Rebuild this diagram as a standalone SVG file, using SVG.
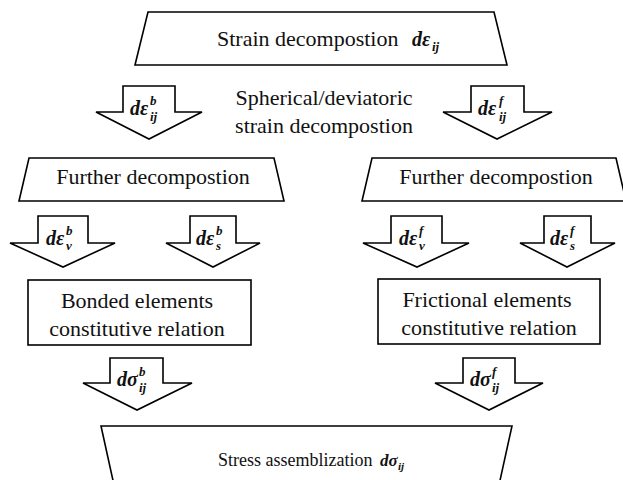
<svg xmlns="http://www.w3.org/2000/svg" width="623" height="480" viewBox="0 0 623 480">
<style>
.s{fill:#fff;stroke:#000;stroke-width:1.6;stroke-linejoin:miter}
.t{font-size:22px;fill:#111}
.m{font-size:20px;font-weight:bold;font-style:italic;fill:#111}
.sc{font-size:13px;font-weight:bold;font-style:italic;fill:#111}
</style>
<rect width="623" height="480" fill="#fff"/>
<g font-family="Liberation Serif, DejaVu Serif, serif">
<g id="connectors">
  <g id="arrow-b-ij">
    <polygon class="s" points="123,86 175,86 175,112 202,112 149,139 96,112 123,112"/>
    <text class="m" x="130" y="115">dε</text><text class="sc" x="150" y="105">b</text><text class="sc" x="150" y="121">ij</text>
  </g>
  <g id="arrow-f-ij">
    <polygon class="s" points="471,86 524,86 524,112 552,112 497,139 443,112 471,112"/>
    <text class="m" x="478" y="115">dε</text><text class="sc" x="499" y="105">f</text><text class="sc" x="499" y="121">ij</text>
  </g>
  <g id="arrow-b-v">
    <polygon class="s" points="38,216 88,216 88,243 115,243 63,267 10,243 38,243"/>
    <text class="m" x="46" y="245">dε</text><text class="sc" x="66" y="235">b</text><text class="sc" x="66" y="250">v</text>
  </g>
  <g id="arrow-b-s">
    <polygon class="s" points="190,216 236,216 236,243 260,243 213,267 166,243 190,243"/>
    <text class="m" x="196" y="245">dε</text><text class="sc" x="216" y="235">b</text><text class="sc" x="216" y="250">s</text>
  </g>
  <g id="arrow-f-v">
    <polygon class="s" points="391,216 442,216 442,243 469,243 417,267 363,243 391,243"/>
    <text class="m" x="399" y="245">dε</text><text class="sc" x="419" y="235">f</text><text class="sc" x="419" y="250">v</text>
  </g>
  <g id="arrow-f-s">
    <polygon class="s" points="544,216 591,216 591,243 615,243 567,267 520,243 544,243"/>
    <text class="m" x="550" y="245">dε</text><text class="sc" x="570" y="235">f</text><text class="sc" x="570" y="250">s</text>
  </g>
  <g id="arrow-sigma-b">
    <polygon class="s" points="110,358 163,358 163,383 192,383 137,410 83,383 110,383"/>
    <text class="m" x="117" y="386">dσ</text><text class="sc" x="139" y="376">b</text><text class="sc" x="139" y="392">ij</text>
  </g>
  <g id="arrow-sigma-f">
    <polygon class="s" points="463,358 515,358 515,383 543,383 489,410 435,383 463,383"/>
    <text class="m" x="470" y="386">dσ</text><text class="sc" x="492" y="376">f</text><text class="sc" x="492" y="392">ij</text>
  </g>
</g>
<g id="node-strain">
  <polygon class="s" points="148,12 494,12 507,65 135,65"/>
  <text class="t" x="217" y="46">Strain decompostion</text>
  <text class="m" x="412" y="46">dε</text><text class="sc" x="432" y="51">ij</text>
</g>
<g id="label-spherical">
  <text class="t" x="324" y="105" text-anchor="middle">Spherical/deviatoric</text>
  <text class="t" x="324" y="133" text-anchor="middle">strain decompostion</text>
</g>
<g id="node-further-left">
  <polygon class="s" points="29,158 274,158 284,201 19,201"/>
  <text class="t" x="153" y="184" text-anchor="middle">Further decompostion</text>
</g>
<g id="node-further-right">
  <polygon class="s" points="372,158 616,158 626,201 362,201"/>
  <text class="t" x="496" y="184" text-anchor="middle">Further decompostion</text>
</g>
<g id="node-bonded">
  <rect class="s" x="28" y="280" width="223" height="65"/>
  <text class="t" x="137" y="308" text-anchor="middle">Bonded elements</text>
  <text class="t" x="137" y="336" text-anchor="middle">constitutive relation</text>
</g>
<g id="node-frictional">
  <rect class="s" x="378" y="279" width="222" height="65"/>
  <text class="t" x="487" y="307" text-anchor="middle">Frictional elements</text>
  <text class="t" x="489" y="335" text-anchor="middle">constitutive relation</text>
</g>
<g id="node-stress">
  <polygon class="s" points="101,426 512,426 499,485 114,485"/>
  <text class="t" x="218" y="466" style="font-size:18px">Stress assemblization</text>
  <text class="m" x="380" y="466" style="font-size:17px">dσ</text><text class="sc" x="398" y="470" style="font-size:11px">ij</text>
</g>
</g>
</svg>
